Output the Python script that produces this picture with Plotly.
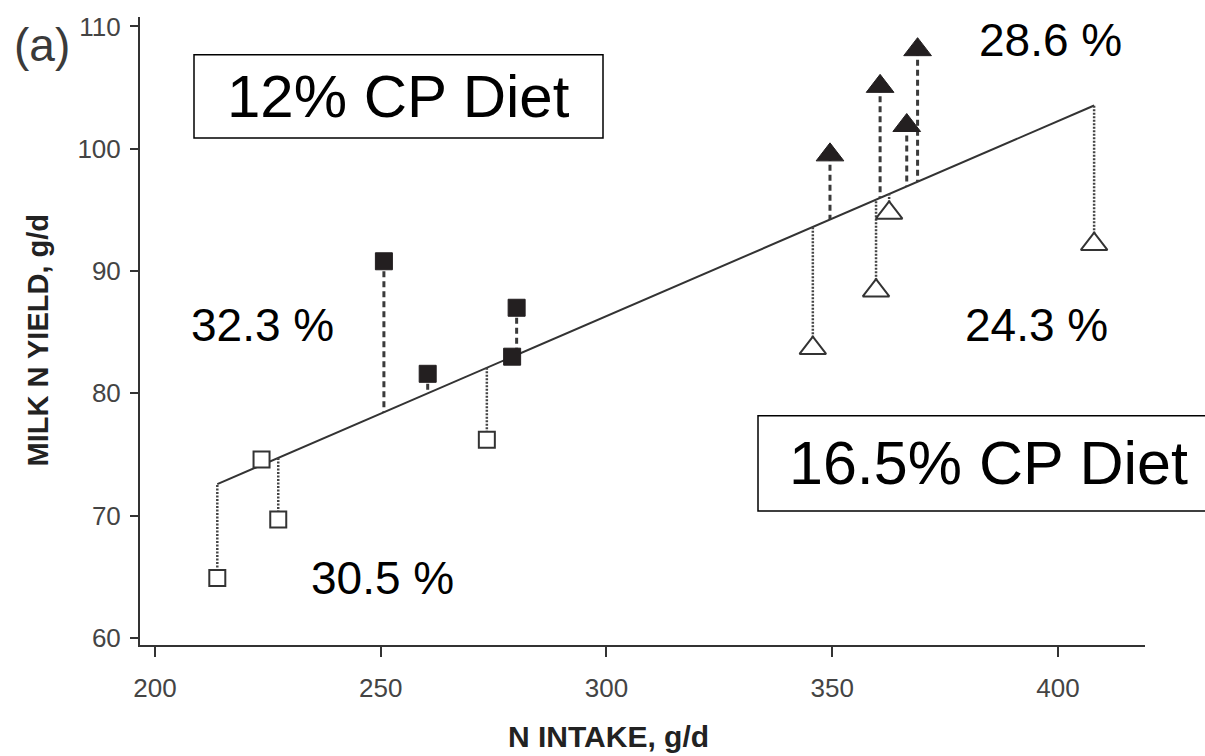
import plotly.graph_objects as go

# ---------------- data ----------------
# 12% CP diet
n_intake_12_open = [213.8, 223.6, 227.3, 273.5]
milk_n_12_open = [64.9, 74.6, 69.7, 76.2]
n_intake_12_filled = [250.7, 260.4, 279.1, 280.1]
milk_n_12_filled = [90.8, 81.6, 83.0, 87.0]
# 16.5% CP diet
n_intake_165_open = [345.7, 359.7, 362.6, 408.0]
milk_n_165_open = [83.7, 88.4, 94.75, 92.2]
n_intake_165_filled = [349.5, 360.6, 366.5, 368.9]
milk_n_165_filled = [99.5, 105.1, 101.9, 108.1]
# regression line
fit_slope = 0.1594
fit_intercept = 38.5

x_ticks = [200, 250, 300, 350, 400]
y_ticks = [60, 70, 80, 90, 100, 110]
pct_labels = ["28.6 %", "32.3 %", "24.3 %", "30.5 %"]
diet_labels = ["12% CP Diet", "16.5% CP Diet"]
x_title = "N INTAKE, g/d"
y_title = "MILK N YIELD, g/d"
panel_label = "(a)"

# ---------------- helpers ----------------
def fit(x):
    return fit_intercept + fit_slope * x

def drops(xs, ys):
    dx, dy = [], []
    for x, y in zip(xs, ys):
        dx += [x, x, None]
        dy += [y, fit(x), None]
    return dx, dy

# layout geometry (pixels)
W, H = 1205, 756
ML, MR, MT, MB = 140, 60, 12, 111
PW, PH = W - ML - MR, H - MT - MB

def px(x):
    return (x - ML) / PW

def py(y):
    return (H - MB - y) / PH

DARK = "#231f20"
GRAY = "#333333"
FONT = "Arial, Liberation Sans, sans-serif"

fig = go.Figure()

all_x = n_intake_12_open + n_intake_12_filled + n_intake_165_open + n_intake_165_filled
xmin, xmax = min(all_x), max(all_x)
fig.add_trace(go.Scatter(x=[xmin, xmax], y=[fit(xmin), fit(xmax)], mode="lines",
                         line=dict(color=GRAY, width=2), showlegend=False, hoverinfo="skip"))

for xs, ys in [(n_intake_12_filled, milk_n_12_filled), (n_intake_165_filled, milk_n_165_filled)]:
    dx, dy = drops(xs, ys)
    fig.add_trace(go.Scatter(x=dx, y=dy, mode="lines", connectgaps=False,
                             line=dict(color="#3a3a3a", width=3, dash="6px,4px"),
                             showlegend=False, hoverinfo="skip"))
for xs, ys in [(n_intake_12_open, milk_n_12_open), (n_intake_165_open, milk_n_165_open)]:
    dx, dy = drops(xs, ys)
    fig.add_trace(go.Scatter(x=dx, y=dy, mode="lines", connectgaps=False,
                             line=dict(color="#444444", width=2.5, dash="2px,1.5px"),
                             showlegend=False, hoverinfo="skip"))

fig.add_trace(go.Scatter(x=n_intake_12_filled, y=milk_n_12_filled, mode="markers",
                         marker=dict(symbol="square", size=17, color=DARK,
                                     line=dict(color=DARK, width=1)), showlegend=False))
fig.add_trace(go.Scatter(x=n_intake_12_open, y=milk_n_12_open, mode="markers",
                         marker=dict(symbol="square", size=16, color="white",
                                     line=dict(color="#333333", width=2)), showlegend=False))
fig.add_trace(go.Scatter(x=n_intake_165_filled, y=milk_n_165_filled, mode="markers",
                         marker=dict(symbol="triangle-up", size=24, color=DARK,
                                     line=dict(color=DARK, width=1)), showlegend=False))
fig.add_trace(go.Scatter(x=n_intake_165_open, y=milk_n_165_open, mode="markers",
                         marker=dict(symbol="triangle-up", size=23, color="white",
                                     line=dict(color="#333333", width=2)), showlegend=False))

axis_common = dict(showline=True, linecolor=GRAY, linewidth=2, ticks="outside",
                   tickwidth=2, tickcolor=GRAY, showgrid=False, zeroline=False,
                   tickfont=dict(family=FONT, size=26, color="#444444"))

fig.update_layout(
    width=W, height=H, autosize=False,
    margin=dict(l=ML, r=MR, t=MT, b=MB, pad=0),
    plot_bgcolor="white", paper_bgcolor="white",
    xaxis=dict(range=[196.68, 419.27], tickvals=x_ticks, ticklen=10,
               ticklabelstandoff=9, **axis_common),
    yaxis=dict(range=[59.43, 110.77], tickvals=y_ticks, ticklen=8,
               ticklabelstandoff=4, **axis_common),
    showlegend=False,
)

# boxes
fig.add_shape(type="rect", xref="paper", yref="paper",
              x0=px(194), x1=px(603), y0=py(134), y1=py(50),
              line=dict(color="black", width=1.5), fillcolor="white", layer="above")
fig.add_shape(type="rect", xref="paper", yref="paper",
              x0=px(758), x1=px(1240), y0=py(510), y1=py(414),
              line=dict(color="black", width=1.5), fillcolor="white", layer="above")

def ann(text, x, y, size, color="black", bold=False, angle=0):
    fig.add_annotation(text=f"<b>{text}</b>" if bold else text,
                       xref="paper", yref="paper", x=px(x), y=py(y),
                       xanchor="center", yanchor="middle", showarrow=False,
                       textangle=angle,
                       font=dict(family=FONT, size=size, color=color))

ann(diet_labels[0], 398, 92, 60)
ann(diet_labels[1], 988, 462, 61)
ann(pct_labels[0], 1050, 35, 46)
ann(pct_labels[1], 262, 322, 46)
ann(pct_labels[2], 1036, 322, 46)
ann(pct_labels[3], 382, 577, 46)
ann(panel_label, 42, 40, 46, color="#3a3a3a")
ann(x_title, 608, 737, 30, color="#222222", bold=True)
ann(y_title, 38, 338, 29, color="#222222", bold=True, angle=-90)

fig.write_html("out.html")
